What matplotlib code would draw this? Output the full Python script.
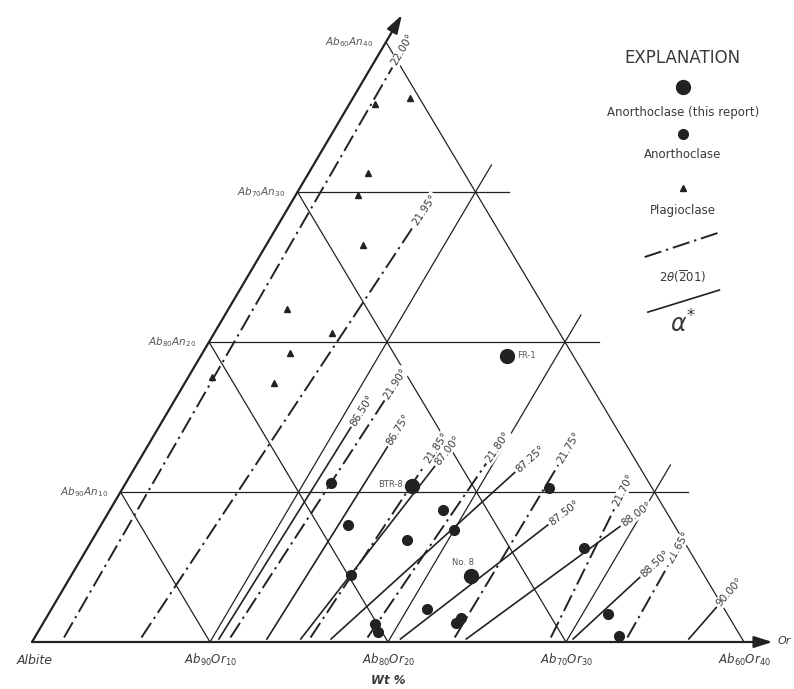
import numpy as np
import matplotlib.pyplot as plt
from matplotlib.lines import Line2D

# compositions in wt% : Or and An (Ab = 100 - Or - An)
plag_or = [1.4, 3.2, 3.3, 3.5, 5.4, 3.3, 6.6, 4.9, 5.0, 1.3]
plag_an = [35.9, 36.3, 31.3, 29.8, 26.5, 22.2, 20.6, 19.3, 17.3, 17.7]

this_names = ['FR-1', 'BTR-8', 'No. 8']
this_or = [17.2, 16.2, 22.5]
this_an = [19.1, 10.4, 4.4]

ano_or = [11.5, 23.9, 13.9, 18.7, 20.0, 17.7, 27.9, 15.7, 21.1, 23.2, 23.3, 18.7, 19.1, 31.4, 32.8]
ano_an = [10.6, 10.3, 7.8, 8.8, 7.5, 6.8, 6.3, 4.5, 2.2, 1.3, 1.6, 1.2, 0.7, 1.9, 0.4]

# 2theta(-201) lines: low end (Or, An) -> high end (Or, An)
theta_lbl = ['22.00°', '21.95°', '21.90°', '21.85°', '21.80°', '21.75°', '21.70°', '21.65°']
theta_or0 = [1.65, 6.0, 11.0, 15.5, 18.7, 23.6, 29.0, 33.3]
theta_an0 = [0.3, 0.3, 0.3, 0.3, 0.3, 0.3, 0.3, 0.3]
theta_or1 = [1.2, 7.65, 11.8, 16.2, 19.6, 23.7, 28.3, 33.2]
theta_an1 = [38.3, 27.7, 16.1, 11.8, 11.9, 11.8, 8.9, 5.1]

# alpha* lines
alpha_lbl = ['86.50°', '86.75°', '87.00°', '87.25°', '87.50°', '88.00°', '88.50°', '90.00°']
alpha_or0 = [10.4, 13.1, 15.0, 16.7, 20.6, 24.3, 30.3, 36.8]
alpha_an0 = [0.2, 0.2, 0.2, 0.2, 0.2, 0.2, 0.2, 0.2]
alpha_or1 = [10.8, 13.5, 16.8, 21.5, 25.1, 29.2, 32.0, 37.3]
alpha_an1 = [14.3, 13.0, 11.7, 11.3, 7.8, 7.7, 4.3, 2.3]

grid_pct = [10, 20, 30]

ink = '#222222'
txt = '#3a3a3a'


def xy(o, a):
    o = np.asarray(o, float)
    a = np.asarray(a, float)
    return o + 0.4972 * a, a


fig = plt.figure(figsize=(7.94, 6.89), dpi=100)
ax = fig.add_axes([0, 0, 1, 1])
ax.set_xlim(-1.798, 42.81)
ax.set_ylim(-3.133, 42.8)
ax.axis('off')

# triangular grid
for p in grid_pct:
    x, y = xy([0, 40 - p + 1.9], [p, p])
    ax.plot(x, y, color=ink, lw=0.9, zorder=1)
    x, y = xy([0, p], [p, 0])
    ax.plot(x, y, color=ink, lw=0.9, zorder=1)
    x, y = xy([p, p], [0, 40 - p + 1.8])
    ax.plot(x, y, color=ink, lw=0.9, zorder=1)
x, y = xy([0, 40], [40, 0])
ax.plot(x, y, color=ink, lw=0.9, zorder=1)

# main axes with arrows
arr = dict(arrowstyle='-|>,head_length=1.1,head_width=0.35', lw=1.6,
           color=ink, shrinkA=0, shrinkB=0)
ax.annotate('', xy=xy(0, 41.8), xytext=xy(0, 0), arrowprops=arr, zorder=3)
ax.annotate('', xy=xy(41.6, 0), xytext=xy(0, 0), arrowprops=arr, zorder=3)

fig.canvas.draw()
T = ax.transData


def line_label(o0, a0, o1, a1, label, gap=3):
    p0 = T.transform(np.column_stack(xy(o0, a0))[0])
    p1 = T.transform(np.column_stack(xy(o1, a1))[0])
    d = (p1 - p0) / np.hypot(*(p1 - p0))
    ang = np.degrees(np.arctan2(d[1], d[0]))
    pos = T.inverted().transform(p1 + gap * d)
    ax.text(pos[0], pos[1], label, rotation=ang, rotation_mode='anchor',
            ha='left', va='center', fontsize=7.5, color=txt, zorder=4,
            bbox=dict(boxstyle='square,pad=0.08', fc='white', ec='none'))


for i in range(len(theta_lbl)):
    x, y = xy([theta_or0[i], theta_or1[i]], [theta_an0[i], theta_an1[i]])
    ax.plot(x, y, color=ink, lw=1.4, ls=(0, (9, 2.5, 1.2, 2.5)), zorder=2)
    line_label(theta_or0[i], theta_an0[i], theta_or1[i], theta_an1[i], theta_lbl[i])

for i in range(len(alpha_lbl)):
    x, y = xy([alpha_or0[i], alpha_or1[i]], [alpha_an0[i], alpha_an1[i]])
    ax.plot(x, y, color=ink, lw=1.2, zorder=2)
    line_label(alpha_or0[i], alpha_an0[i], alpha_or1[i], alpha_an1[i], alpha_lbl[i])

# samples
x, y = xy(plag_or, plag_an)
ax.plot(x, y, ls='none', marker='^', ms=5, color=ink, zorder=5)
x, y = xy(ano_or, ano_an)
ax.plot(x, y, ls='none', marker='o', ms=7, color=ink, zorder=5)
x, y = xy(this_or, this_an)
ax.plot(x, y, ls='none', marker='o', ms=10, color=ink, zorder=5)
offs = [(7, 0, 'left'), (-7, 1, 'right'), (-6, 10, 'center')]
for i, nm in enumerate(this_names):
    dx, dy, ha = offs[i]
    ax.annotate(nm, xy=(x[i], y[i]), xytext=(dx, dy), textcoords='offset points',
                ha=ha, va='center', fontsize=6, color='#555555', zorder=6)

# axis labels
for p in [10, 20, 30, 40]:
    ax.annotate(r'$\mathit{Ab}_{%d}\mathit{An}_{%d}$' % (100 - p, p), xy=xy(0, p),
                xytext=(-9, 0), textcoords='offset points', ha='right', va='center',
                fontsize=7.5, color='#555555')
    ax.annotate(r'$\mathit{Ab}_{%d}\mathit{Or}_{%d}$' % (100 - p, p), xy=xy(p, 0),
                xytext=(0, -13), textcoords='offset points', ha='center', va='center',
                fontsize=8.5, color=txt)
ax.annotate('Albite', xy=xy(0, 0), xytext=(2, -13), textcoords='offset points',
            ha='center', va='center', fontsize=9, style='italic', color=txt)
ax.annotate('Or', xy=xy(41.6, 0), xytext=(4, 1), textcoords='offset points',
            ha='left', va='center', fontsize=8, style='italic', color=txt)
ax.annotate('Wt %', xy=xy(20, 0), xytext=(0, -28), textcoords='offset points',
            ha='center', va='center', fontsize=8.5, style='italic', weight='bold', color=txt)

# explanation
cx = 0.860
fig.text(cx, 0.916, 'EXPLANATION', ha='center', va='center', fontsize=12, color=txt)
fig.add_artist(Line2D([cx], [0.874], marker='o', ms=10, color=ink, ls='none'))
fig.text(cx, 0.836, 'Anorthoclase (this report)', ha='center', va='center', fontsize=8.5, color=txt)
fig.add_artist(Line2D([cx], [0.806], marker='o', ms=7, color=ink, ls='none'))
fig.text(cx, 0.776, 'Anorthoclase', ha='center', va='center', fontsize=8.5, color=txt)
fig.add_artist(Line2D([cx], [0.727], marker='^', ms=5, color=ink, ls='none'))
fig.text(cx, 0.695, 'Plagioclase', ha='center', va='center', fontsize=8.5, color=txt)
fig.add_artist(Line2D([0.812, 0.907], [0.627, 0.663], color=ink, lw=1.4,
                      ls=(0, (9, 2.5, 1.2, 2.5))))
fig.text(cx, 0.598, r'2$\theta$($\overline{\mathrm{2}}$01)', ha='center', va='center',
         fontsize=8.5, color=txt)
fig.add_artist(Line2D([0.816, 0.906], [0.547, 0.579], color=ink, lw=1.2))
fig.text(cx, 0.530, r'$\alpha^{*}$', ha='center', va='center', fontsize=17, color=txt)

fig.savefig('out.png', dpi=100)
